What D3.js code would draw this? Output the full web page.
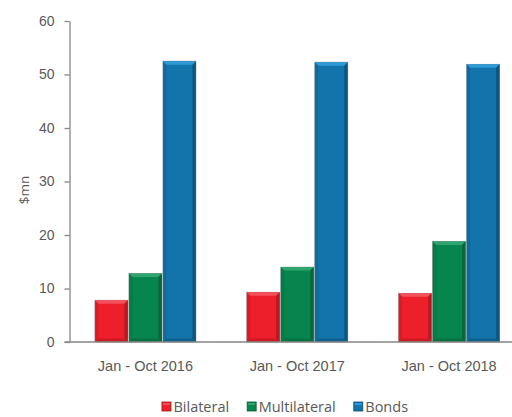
<!DOCTYPE html>
<html>
<head>
<meta charset="utf-8">
<script src="https://cdn.jsdelivr.net/npm/d3@7"></script>
<style>
  html, body { margin: 0; padding: 0; background: #fff; }
  svg { display: block; font-family: "Open Sans", "Liberation Sans", sans-serif; }
</style>
</head>
<body>
<div id="chart"></div>
<script>
// periods on the x axis
const periods = ['Jan - Oct 2016', 'Jan - Oct 2017', 'Jan - Oct 2018'];
// financing sources (one bar each per period)
const sources = ['Bilateral', 'Multilateral', 'Bonds'];
const bilateral = [7.8, 9.3, 9.1];
const multilateral = [12.8, 14.0, 18.8];
const bonds = [52.5, 52.3, 51.9];
const yTicks = [0, 10, 20, 30, 40, 50, 60];

const colors = {
  Bilateral: { base: '#ec1f2a', light: '#f2505a', dark: '#a8141c' },
  Multilateral: { base: '#07854e', light: '#2ea46e', dark: '#045a34' },
  Bonds: { base: '#1274aa', light: '#2f9ad6', dark: '#0b4a6e' }
};

const width = 512, height = 417;
const margin = { top: 21, right: -13, bottom: 75, left: 69.5 };
const innerW = width - margin.left - margin.right;
const innerH = height - margin.top - margin.bottom;

const rows = periods.map((p, i) => ({
  period: p,
  values: [
    { key: 'Bilateral', value: bilateral[i] },
    { key: 'Multilateral', value: multilateral[i] },
    { key: 'Bonds', value: bonds[i] }
  ]
}));

const svg = d3.select('#chart').append('svg')
  .attr('width', width)
  .attr('height', height);

const g = svg.append('g')
  .attr('transform', `translate(${margin.left},${margin.top})`);

// scales
const x0 = d3.scaleBand().domain(periods).range([0, innerW]);
const groupW = 101;
const x1 = d3.scaleBand().domain(sources).range([-groupW / 2, groupW / 2]).paddingInner(0.03);
const y = d3.scaleLinear().domain([0, 60]).range([innerH, 0]);

// y axis
const yAxis = g.append('g')
  .call(d3.axisLeft(y).tickValues(yTicks).tickSize(5).tickSizeOuter(0).tickPadding(10));
yAxis.select('.domain').attr('stroke', '#868686').attr('stroke-width', 1.3);
yAxis.selectAll('.tick line').attr('stroke', '#868686').attr('stroke-width', 1.3);
yAxis.selectAll('.tick text')
  .attr('fill', '#595959')
  .style('font-size', '14px');

// y axis title
svg.append('text')
  .attr('transform', 'translate(24,190) rotate(-90)')
  .attr('text-anchor', 'middle')
  .attr('dy', '0.35em')
  .attr('fill', '#595959')
  .style('font-size', '13.5px')
  .text('$mn');

// bars
const groups = g.selectAll('.group')
  .data(rows)
  .join('g')
  .attr('class', 'group')
  .attr('transform', d => `translate(${x0(d.period) + x0.bandwidth() / 2},0)`);

const bars = groups.selectAll('.bar')
  .data(d => d.values)
  .join('g')
  .attr('class', 'bar');

const bev = 3.5;
bars.append('rect')
  .attr('x', d => x1(d.key))
  .attr('y', d => y(d.value))
  .attr('width', x1.bandwidth())
  .attr('height', d => y(0) - y(d.value))
  .attr('fill', d => colors[d.key].base)
  .attr('stroke', '#7a7a7a')
  .attr('stroke-opacity', 0.6)
  .attr('stroke-width', 0.8);

// top bevel
bars.append('path')
  .attr('fill', d => colors[d.key].light)
  .attr('d', d => {
    const l = x1(d.key), r = l + x1.bandwidth(), t = y(d.value);
    return `M${l},${t}L${r},${t}L${r - bev},${t + bev}L${l + bev},${t + bev}Z`;
  });

// right edge shade
bars.append('path')
  .attr('fill', d => colors[d.key].dark)
  .attr('opacity', 0.7)
  .attr('d', d => {
    const l = x1(d.key), r = l + x1.bandwidth(), t = y(d.value), b = y(0);
    return `M${r},${t}L${r},${b}L${r - bev},${b - bev}L${r - bev},${t + bev}Z`;
  });

// left edge shade
bars.append('path')
  .attr('fill', d => colors[d.key].dark)
  .attr('opacity', 0.25)
  .attr('d', d => {
    const l = x1(d.key), t = y(d.value), b = y(0);
    return `M${l},${t}L${l + bev},${t + bev}L${l + bev},${b - bev}L${l},${b}Z`;
  });

// bottom edge shade
bars.append('path')
  .attr('fill', d => colors[d.key].dark)
  .attr('opacity', 0.45)
  .attr('d', d => {
    const l = x1(d.key), r = l + x1.bandwidth(), b = y(0);
    return `M${l},${b}L${l + bev},${b - bev}L${r - bev},${b - bev}L${r},${b}Z`;
  });

// x axis
const xAxis = g.append('g')
  .attr('transform', `translate(0,${innerH})`)
  .call(d3.axisBottom(x0).tickSize(0).tickPadding(19));
xAxis.select('.domain').remove();
xAxis.append('line')
  .attr('x1', -5).attr('x2', innerW)
  .attr('stroke', '#868686').attr('stroke-width', 1.5);
xAxis.selectAll('.tick text')
  .attr('fill', '#595959')
  .style('font-size', '14.5px');

// legend
const legend = svg.append('g').attr('transform', 'translate(0,407)');
const items = legend.selectAll('.item')
  .data(sources)
  .join('g')
  .attr('class', 'item');
items.append('rect')
  .attr('y', -5).attr('width', 9).attr('height', 9)
  .attr('fill', d => colors[d].base)
  .attr('stroke', d => colors[d].dark)
  .attr('stroke-width', 0.8);
items.append('rect')
  .attr('x', 1).attr('y', -4).attr('width', 7).attr('height', 2)
  .attr('fill', d => colors[d].light);
items.append('text')
  .attr('x', 11.5)
  .attr('dy', '0.35em')
  .attr('fill', '#595959')
  .style('font-size', '14.5px')
  .text(d => d);

let cursor = 0;
const offsets = [];
items.each(function () {
  offsets.push(cursor);
  const w = 11.5 + d3.select(this).select('text').node().getComputedTextLength();
  cursor += w + 18;
});
const totalW = cursor - 18;
const startX = 285 - totalW / 2;
items.attr('transform', (d, i) => `translate(${startX + offsets[i]},0)`);
</script>
</body>
</html>
